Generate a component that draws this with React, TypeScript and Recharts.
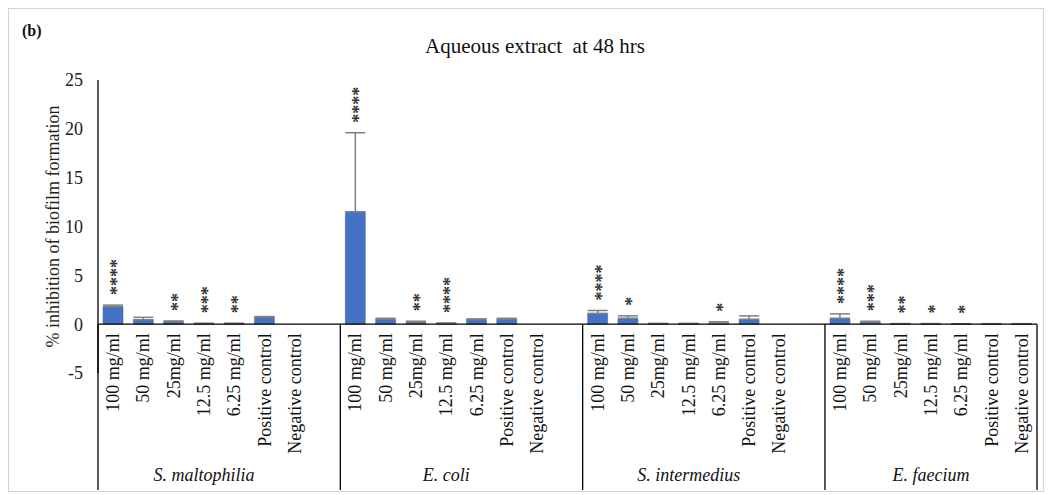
import React from 'react';
import {
  ComposedChart, Bar, Line, XAxis, YAxis, ErrorBar, LabelList, ReferenceLine,
} from 'recharts';

// groups, x categories and the values
const GROUPS = ['S. maltophilia', 'E. coli', 'S. intermedius', 'E. faecium'];
const CONCS = ['100 mg/ml', '50 mg/ml', '25mg/ml', '12.5 mg/ml', '6.25 mg/ml', 'Positive control', 'Negative control'];

const MALTO_MEAN = [1.8, 0.45, 0.25, 0.05, 0.05, 0.7, 0];
const MALTO_ERR = [0.15, 0.25, 0.08, 0.05, 0.05, 0.08, 0.02];
const MALTO_SIG = ['****', '', '**', '***', '**', '', ''];

const ECOLI_MEAN = [11.5, 0.5, 0.17, 0.07, 0.48, 0.5, 0];
const ECOLI_ERR = [8.1, 0.1, 0.13, 0.05, 0.06, 0.1, 0.02];
const ECOLI_SIG = ['****', '', '**', '****', '', '', ''];

const SINT_MEAN = [1.1, 0.6, 0.05, 0.05, 0.1, 0.5, 0];
const SINT_ERR = [0.3, 0.25, 0.03, 0.03, 0.15, 0.35, 0.02];
const SINT_SIG = ['****', '*', '', '', '*', '', ''];

const EFAEC_MEAN = [0.6, 0.2, 0.03, 0.03, 0.02, 0.03, 0.03];
const EFAEC_ERR = [0.45, 0.1, 0.03, 0.03, 0.02, 0.02, 0.02];
const EFAEC_SIG = ['****', '***', '**', '*', '*', '', ''];

const Y_TICKS = [-5, 0, 5, 10, 15, 20, 25];

const MEANS = [MALTO_MEAN, ECOLI_MEAN, SINT_MEAN, EFAEC_MEAN];
const ERRS = [MALTO_ERR, ECOLI_ERR, SINT_ERR, EFAEC_ERR];
const SIGS = [MALTO_SIG, ECOLI_SIG, SINT_SIG, EFAEC_SIG];

// 7 bars per group, plus an empty slot between groups (like the Excel original)
const data: any[] = [];
GROUPS.forEach((g, gi) => {
  CONCS.forEach((c, ci) => {
    data.push({
      id: `${gi}-${ci}`,
      conc: c,
      group: g,
      pos: ci,
      mean: MEANS[gi][ci],
      err: [0, ERRS[gi][ci]],
      top: MEANS[gi][ci] + ERRS[gi][ci],
      sig: SIGS[gi][ci],
    });
  });
  if (gi < GROUPS.length - 1) {
    data.push({ id: `gap-${gi}`, conc: '', group: g, pos: -1, mean: null, err: [0, 0], top: null, sig: '' });
  }
});

const FONT = "'Liberation Serif', 'Times New Roman', serif";
const W = 1034;
const H = 482;
const MARGIN = { top: 71, right: 6, left: 29, bottom: 0 };
const Y_AXIS_W = 60;
const X_AXIS_H = 118;
const PLOT_L = MARGIN.left + Y_AXIS_W;
const PLOT_R = W - MARGIN.right;
const PLOT_T = MARGIN.top;
const PLOT_B = H - MARGIN.bottom - X_AXIS_H;
const Y_MIN = -5;
const Y_MAX = 25;
const ZERO_Y = PLOT_T + (Y_MAX / (Y_MAX - Y_MIN)) * (PLOT_B - PLOT_T);
const SLOT = (PLOT_R - PLOT_L) / data.length;

const CategoryTick = (props: any) => {
  const { x, index } = props;
  const d = data[index];
  if (!d) return null;
  const parts: React.ReactNode[] = [];
  // group separators
  if (d.pos === 0) {
    parts.push(<line key="sl" x1={x - SLOT / 2} x2={x - SLOT / 2} y1={ZERO_Y} y2={H - 1} stroke="#000" strokeWidth={1.3} />);
  }
  if (index === data.length - 1) {
    parts.push(<line key="sr" x1={x + SLOT / 2} x2={x + SLOT / 2} y1={ZERO_Y} y2={H - 1} stroke="#000" strokeWidth={1.3} />);
  }
  if (d.conc) {
    parts.push(
      <text key="t" x={0} y={0} dy="0.33em" textAnchor="end" fontSize={18} fontFamily={FONT} fill="#111"
        transform={`translate(${x},${ZERO_Y + 9}) rotate(-90)`}>
        {d.conc}
      </text>
    );
  }
  if (d.pos === 3) {
    parts.push(
      <text key="g" x={x} y={H - 10} textAnchor="middle" fontSize={18} fontStyle="italic" fontFamily={FONT} fill="#111">
        {d.group}
      </text>
    );
  }
  return <g>{parts}</g>;
};

// significance stars, stacked vertically above the error bar
const Stars = (props: any) => {
  const { x, y, value } = props;
  if (!value || y == null || isNaN(y)) return null;
  return (
    <text x={0} y={0} dy="0.55em" textAnchor="start" fontSize={18} fontWeight="bold" fontFamily={FONT} fill="#333"
      transform={`translate(${x},${y - 10}) rotate(-90)`}>
      {value}
    </text>
  );
};

const YLabel = (props: any) => {
  const vb = props.viewBox || {};
  const cx = vb.x + 15;
  const cy = vb.y + vb.height / 2;
  return (
    <text x={0} y={0} textAnchor="middle" dominantBaseline="central" fontSize={18} fontFamily={FONT} fill="#222"
      transform={`translate(${cx},${cy}) rotate(-90)`}>
      % inhibition of biofilm formation
    </text>
  );
};

export default function App() {
  return (
    <div style={{ position: 'relative', width: W, height: H, border: '1px solid #d4d4d4', background: '#fff', fontFamily: FONT }}>
      <div style={{ position: 'absolute', left: 13, top: 14, fontSize: 16, lineHeight: '16px', fontWeight: 'bold', color: '#111' }}>
        (b)
      </div>
      <div style={{ position: 'absolute', left: 0, width: 1052, top: 27, fontSize: 21, lineHeight: '20px', textAlign: 'center', whiteSpace: 'pre', color: '#111' }}>
        Aqueous extract  at 48 hrs
      </div>
      <div style={{ position: 'absolute', left: 0, top: 0 }}>
        <ComposedChart width={W} height={H} data={data} margin={MARGIN} barCategoryGap="33%">
          <XAxis dataKey="id" interval={0} height={X_AXIS_H} tickLine={false} axisLine={false} tick={<CategoryTick />} />
          <YAxis
            domain={[Y_MIN, Y_MAX]}
            ticks={Y_TICKS}
            width={Y_AXIS_W}
            tickLine={false}
            tickSize={0}
            tickMargin={15}
            axisLine={{ stroke: '#000', strokeWidth: 1.3 }}
            tick={{ fill: '#222', fontSize: 18, fontFamily: FONT }}
            label={<YLabel />}
          />
          <Bar dataKey="mean" fill="#4472C4" stroke="#3a64b0" strokeWidth={0.5} barSize={20} isAnimationActive={false}>
            <ErrorBar dataKey="err" width={10} stroke="#7f7f7f" strokeWidth={1.5} direction="y" />
          </Bar>
          <Line dataKey="top" stroke="none" dot={false} activeDot={false} isAnimationActive={false} connectNulls={false}>
            <LabelList dataKey="sig" content={<Stars />} />
          </Line>
          <ReferenceLine y={0} stroke="#000" strokeWidth={1.3} />
        </ComposedChart>
      </div>
    </div>
  );
}
